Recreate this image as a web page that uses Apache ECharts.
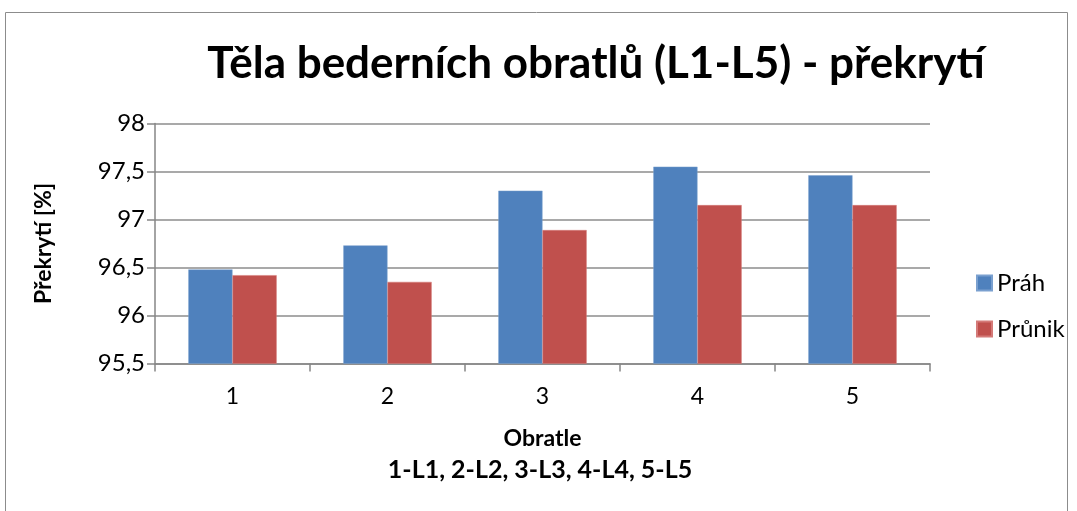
<!DOCTYPE html>
<html><head><meta charset="utf-8">
<script src="https://cdn.jsdelivr.net/npm/echarts@6/dist/echarts.min.js"></script>
<style>html,body{margin:0;padding:0;background:#fff}#c{width:1077px;height:511px}</style>
</head><body><div id="c"></div>
<script>
const categories = ['1','2','3','4','5'];
const prah = [96.48, 96.73, 97.30, 97.55, 97.46];
const prunik = [96.42, 96.35, 96.89, 97.15, 97.15];
const seriesNames = ['Práh','Průnik'];
const titleText = 'Těla bederních obratlů (L1-L5) - překrytí';
const yName = 'Překrytí [%]';
const xName = 'Obratle';
const xSub = '1-L1, 2-L2, 3-L3, 4-L4, 5-L5';

const font = 'Lato, "Open Sans", sans-serif';
const chart = echarts.init(document.getElementById('c'));
chart.setOption({
  animation:false,
  graphic:[
    {type:'rect',shape:{x:5.5,y:12.5,width:1062,height:520},style:{fill:'none',stroke:'#8c8c8c',lineWidth:1}},
    {type:'text',x:540,y:470,style:{text:xSub,font:'bold 25px '+font,fill:'#000',textAlign:'center',textVerticalAlign:'middle'}}
  ],
  title:{text:titleText,left:591,textAlign:'center',top:37,textStyle:{fontFamily:font,fontWeight:'bold',fontSize:44,color:'#000'}},
  legend:{orient:'vertical',left:971,top:266,itemWidth:15,itemHeight:15,itemGap:22,icon:'rect',
    textStyle:{fontFamily:font,fontSize:24,color:'#000'},data:seriesNames},
  grid:{left:155,right:147,top:123.5,bottom:147.5},
  xAxis:{type:'category',data:categories,name:xName,nameLocation:'middle',nameGap:64,
    nameTextStyle:{fontFamily:font,fontWeight:'bold',fontSize:23,color:'#000'},
    axisLine:{lineStyle:{color:'#868686',width:1.5}},
    axisTick:{show:true,length:8,lineStyle:{color:'#868686',width:1.5}},
    axisLabel:{fontFamily:font,fontSize:23,color:'#000',margin:22}},
  yAxis:{type:'value',min:95.5,max:98,interval:0.5,name:yName,nameLocation:'middle',nameGap:100,
    nameTextStyle:{fontFamily:font,fontWeight:'bold',fontSize:23,color:'#000'},
    axisLine:{show:true,lineStyle:{color:'#868686',width:1.5}},
    axisTick:{show:true,length:8,lineStyle:{color:'#868686',width:1.5}},
    splitLine:{lineStyle:{color:'#8c8c8c',width:1.5}},
    axisLabel:{fontFamily:font,fontSize:24,color:'#000',margin:10,
      formatter:v=>String(v).replace('.',',')}},
  series:[
    {name:seriesNames[0],type:'bar',data:prah,barGap:'0%',barCategoryGap:'43%',
      itemStyle:{color:'#4F81BD',borderColor:'#7aa0cf',borderWidth:0.5}},
    {name:seriesNames[1],type:'bar',data:prunik,barGap:'0%',barCategoryGap:'43%',
      itemStyle:{color:'#C0504D',borderColor:'#d47a78',borderWidth:0.5}}
  ]
});
</script></body></html>
